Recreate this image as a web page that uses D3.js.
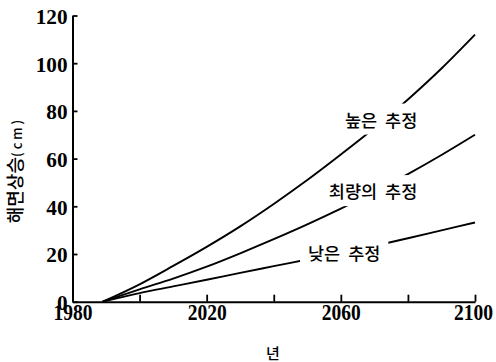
<!DOCTYPE html>
<html><head><meta charset="utf-8">
<script src="https://cdn.jsdelivr.net/npm/d3@7"></script>
<style>body{margin:0;background:#fff}</style>
</head><body>
<svg id="c" width="496" height="362"></svg>
<script>
const years = [1989, 2000, 2010, 2020, 2030, 2040, 2050, 2060, 2070, 2080, 2090, 2100];
const highEst = [0, 7.3, 15, 23, 31.6, 41, 51, 61.7, 72.8, 84.8, 97.8, 112];
const bestEst = [0, 5.2, 9.7, 14.7, 20.3, 26.2, 32.4, 39, 46, 53.5, 61.5, 70];
const lowEst  = [0, 3.6, 6.4, 9.2, 12.1, 14.9, 17.7, 20.5, 23.4, 26.6, 29.9, 33.2];
const seriesNames = ["높은 추정", "최량의 추정", "낮은 추정"];
const labelYears = [2072, 2069.6, 2061];
const labelValues = [76, 46, 20];
const xTicks = [1980, 2000, 2020, 2040, 2060, 2080, 2100];
const xTickLabels = ["1980", "", "2020", "", "2060", "", "2100"];
const yTicks = [0, 20, 40, 60, 80, 100, 120];
const yTitle = "해면상승";
const yUnit = "(cm)";
const xTitle = "년";

const svg = d3.select("#c");
const x = d3.scaleLinear().domain([1980, 2100]).range([72.5, 475]);
const y = d3.scaleLinear().domain([0, 120]).range([301.7, 15.5]);

const serifBold = "'Liberation Serif','DejaVu Serif',serif";
const kr = "'Noto Sans CJK KR','Noto Sans',sans-serif";

// lines
const line = d3.line().x((d,i)=>x(years[i])).y(d=>y(d)).curve(d3.curveMonotoneX);
const all = [highEst, bestEst, lowEst];
svg.append("g").selectAll("path").data(all).join("path")
  .attr("d", d=>line(d)).attr("fill","none").attr("stroke","#000").attr("stroke-width",1.9);

// labels with white backing
const lg = svg.append("g");
seriesNames.forEach((n,i)=>{
  const g = lg.append("g").attr("transform",`translate(${x(labelYears[i])},${y(labelValues[i])})`);
  const t = g.append("text").text(n).attr("text-anchor","middle").attr("dy","0.35em")
    .attr("font-family",kr).attr("font-size",17.5).attr("font-weight",500).attr("fill","#000")
    .attr("word-spacing",4);
  const bb = t.node().getBBox();
  g.insert("rect","text").attr("x",bb.x-8).attr("y",bb.y-3).attr("width",bb.width+16).attr("height",bb.height+6).attr("fill","#fff");
});

// y axis
const ya = svg.append("g").attr("transform",`translate(${x(1980)},0)`)
  .call(d3.axisLeft(y).tickValues(yTicks).tickSizeInner(-5).tickSizeOuter(0).tickPadding(5));
ya.select(".domain").attr("stroke-width",2);
ya.selectAll(".tick line").attr("stroke-width",1.8);
ya.selectAll(".tick text").attr("font-family",serifBold).attr("font-weight","bold").attr("font-size",22)
  .attr("fill","#000").attr("dy","0.36em")
  .attr("textLength",d=>String(d).length*10.6).attr("lengthAdjust","spacingAndGlyphs");

// x axis
const xa = svg.append("g").attr("transform",`translate(0,${y(0)})`)
  .call(d3.axisBottom(x).tickValues(xTicks).tickFormat((d,i)=>xTickLabels[i]).tickSizeInner(-7).tickSizeOuter(0).tickPadding(4));
xa.select(".domain").attr("stroke-width",2);
xa.selectAll(".tick line").attr("stroke-width",1.8);
xa.selectAll(".tick text").attr("font-family",serifBold).attr("font-weight","bold").attr("font-size",23)
  .attr("fill","#000").attr("dy","0.62em")
  .attr("textLength",d=>xTickLabels[xTicks.indexOf(d)] ? 39 : 0).attr("lengthAdjust","spacingAndGlyphs");
xa.selectAll(".tick text").filter(d=>d===2100).attr("dx",-2);

// y title
const yt = svg.append("text").attr("transform","translate(22,170) rotate(-90)").attr("text-anchor","middle")
  .attr("font-family",kr).attr("font-size",18).attr("font-weight",500).attr("fill","#000");
yt.append("tspan").text(yTitle);
yt.append("tspan").text(yUnit).attr("font-size",13).attr("letter-spacing",3);

// x title
svg.append("text").attr("x",273).attr("y",359).attr("text-anchor","middle")
  .attr("font-family",kr).attr("font-size",15).attr("font-weight",500).attr("fill","#000").text(xTitle);
</script>
</body></html>
